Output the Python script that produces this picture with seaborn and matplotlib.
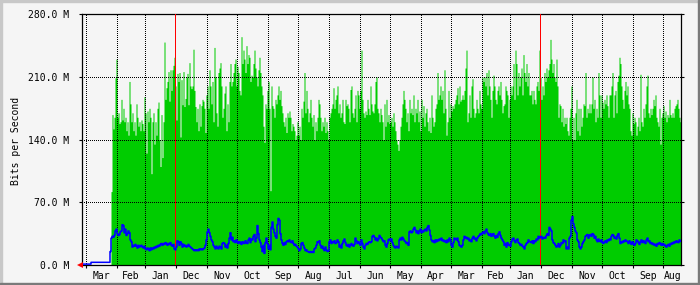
import numpy as np
import pandas as pd
import matplotlib
matplotlib.use("Agg")
import matplotlib.pyplot as plt
import seaborn as sns
from matplotlib.patches import Rectangle

# ---------------- data ----------------
now = pd.Timestamp("2011-04-05")       # left edge of the graph (newest), time runs to the right
n_days = 600

# incoming traffic (green area), daily values in Mbit/s, first column is 29 days ago
green_start = 29
green_in = [
    82, 168, 152, 165, 209, 230, 165, 170, 158, 160,
    185, 162, 175, 160, 165, 150, 160, 145, 205, 180,
    160, 170, 150, 160, 145, 180, 165, 155, 160, 150,
    162, 158, 150, 188, 170, 125, 172, 160, 175, 165,
    102, 160, 170, 135, 160, 145, 175, 182, 140, 110,
    168, 120, 160, 249, 185, 198, 205, 216, 183, 218,
    195, 218, 223, 232, 200, 162, 214, 205, 215, 143,
    207, 179, 216, 177, 186, 210, 214, 179, 226, 200,
    197, 200, 241, 195, 177, 160, 175, 150, 180, 155,
    178, 185, 183, 175, 148, 190, 200, 175, 218, 200,
    180, 205, 160, 243, 210, 170, 155, 215, 220, 226,
    200, 165, 175, 192, 200, 150, 180, 160, 205, 225,
    200, 205, 215, 225, 230, 200, 222, 215, 195, 190,
    255, 225, 240, 230, 215, 245, 225, 235, 232, 205,
    212, 210, 225, 240, 220, 210, 200, 218, 232, 215,
    200, 190, 155, 137, 180, 175, 195, 205, 175, 83,
    200, 178, 175, 165, 185, 180, 190, 200, 185, 195,
    178, 170, 160, 155, 165, 148, 170, 165, 172, 165,
    150, 158, 155, 150, 140, 145, 160, 145, 155, 140,
    175, 165, 183, 215, 170, 195, 175, 160, 170, 185,
    165, 155, 168, 140, 160, 150, 165, 185, 180, 165,
    150, 160, 155, 165, 148, 160, 150, 140, 165, 170,
    175, 180, 198, 175, 185, 190, 200, 170, 180, 165,
    170, 185, 160, 158, 185, 178, 180, 175, 160, 196,
    200, 170, 165, 175, 190, 160, 195, 190, 175, 195,
    240, 185, 170, 165, 172, 168, 185, 175, 168, 200,
    180, 172, 170, 180, 205, 210, 175, 170, 160, 175,
    168, 160, 140, 180, 155, 185, 160, 168, 158, 160,
    165, 155, 170, 160, 150, 140, 135, 128, 140, 155,
    165, 180, 195, 185, 175, 160, 170, 150, 185, 170,
    175, 168, 190, 160, 175, 170, 185, 160, 172, 150,
    185, 165, 178, 155, 170, 175, 160, 150, 165, 148,
    190, 165, 155, 160, 175, 180, 215, 185, 190, 200,
    185, 195, 170, 218, 175, 145, 160, 195, 165, 180,
    172, 178, 175, 180, 185, 190, 198, 180, 200, 183,
    185, 190, 185, 195, 220, 240, 160, 170, 190, 165,
    200, 208, 175, 165, 170, 185, 175, 170, 195, 180,
    175, 210, 205, 210, 200, 215, 190, 218, 200, 185,
    165, 195, 212, 200, 185, 180, 195, 200, 190, 205,
    185, 170, 178, 180, 200, 195, 190, 165, 185, 200,
    190, 200, 225, 185, 240, 225, 190, 215, 200, 210,
    220, 190, 235, 215, 205, 225, 200, 215, 190, 190,
    195, 180, 195, 185, 180, 200, 205, 195, 240, 210,
    185, 200, 190, 215, 205, 220, 210, 218, 225, 252,
    230, 215, 225, 210, 205, 230, 200, 165, 180, 178,
    160, 175, 155, 165, 158, 165, 150, 145, 165, 175,
    200, 140, 165, 140, 170, 185, 150, 175, 145, 175,
    155, 165, 180, 178, 215, 165, 175, 170, 180, 170,
    180, 210, 175, 185, 160, 175, 165, 215, 190, 165,
    190, 182, 175, 185, 180, 190, 178, 165, 190, 190,
    200, 215, 165, 190, 195, 170, 205, 212, 232, 225,
    200, 185, 175, 195, 205, 190, 200, 180, 175, 150,
    145, 170, 158, 165, 160, 145, 155, 165, 150, 213,
    160, 155, 175, 165, 180, 200, 212, 170, 165, 175,
    168, 175, 185, 178, 190, 165, 160, 155, 175, 135,
    165, 170, 178, 165, 172, 160, 168, 165, 185, 168,
    165, 170, 165, 175, 178, 180, 185, 175, 165, 160,
    165,
]

# outgoing traffic (blue line), daily values in Mbit/s, first column is 0 days ago
blue_start = 0
blue_out = [
    1, 1, 1, 1, 1, 1, 1, 1, 1, 3,
    3, 3, 3, 3, 3, 3, 3, 3, 3, 3,
    3, 3, 3, 3, 3, 3, 3, 3, 15, 30,
    32, 31, 33, 38, 40, 35, 33, 34, 37, 38,
    45, 44, 36, 40, 33, 35, 38, 36, 28, 26,
    20, 22, 21, 23, 21, 19, 22, 20, 21, 22,
    20, 19, 21, 18, 17, 19, 18, 16, 19, 17,
    19, 18, 20, 19, 21, 20, 22, 21, 23, 24,
    22, 24, 23, 25, 24, 22, 24, 23, 25, 22,
    21, 23, 18, 17, 20, 27, 26, 22, 26, 24,
    20, 23, 21, 22, 20, 21, 23, 21, 20, 19,
    18, 17, 16, 17, 16, 17, 16, 18, 17, 18,
    17, 18, 19, 22, 28, 37, 40, 36, 32, 28,
    26, 22, 20, 18, 21, 19, 18, 21, 20, 18,
    24, 25, 24, 20, 22, 19, 24, 30, 36, 28,
    31, 26, 27, 25, 28, 26, 24, 26, 25, 23,
    26, 25, 24, 27, 25, 24, 28, 30, 25, 29,
    28, 32, 34, 26, 30, 44, 35, 28, 25, 20,
    15, 22, 13, 25, 30, 24, 18, 22, 17, 42,
    48, 40, 36, 32, 30, 45, 52, 50, 35, 28,
    24, 22, 25, 23, 26, 27, 26, 28, 26, 25,
    27, 24, 22, 23, 21, 20, 18, 16, 18, 24,
    25, 22, 19, 16, 17, 15, 15, 14, 15, 14,
    15, 14, 18, 19, 22, 26, 25, 27, 22, 19,
    21, 18, 16, 20, 17, 15, 16, 26, 28, 24,
    26, 25, 27, 24, 25, 28, 26, 20, 22, 19,
    24, 27, 29, 25, 22, 21, 23, 20, 22, 24,
    22, 21, 23, 30, 27, 24, 26, 24, 22, 28,
    24, 20, 18, 22, 24, 23, 25, 26, 25, 26,
    32, 33, 31, 28, 30, 27, 29, 33, 31, 30,
    28, 26, 27, 22, 20, 24, 28, 29, 27, 29,
    25, 22, 20, 19, 21, 20, 19, 28, 30, 28,
    31, 29, 27, 26, 24, 25, 22, 37, 38, 36,
    37, 40, 42, 39, 36, 38, 35, 38, 40, 36,
    38, 37, 39, 40, 38, 42, 44, 39, 33, 28,
    26, 27, 25, 28, 26, 28, 27, 29, 28, 30,
    27, 28, 26, 27, 25, 28, 26, 30, 28, 22,
    20, 25, 30, 29, 28, 30, 26, 22, 21, 20,
    22, 28, 32, 30, 31, 29, 30, 27, 28, 26,
    30, 32, 29, 30, 27, 30, 32, 33, 35, 34,
    36, 37, 35, 38, 40, 36, 34, 33, 35, 32,
    34, 35, 32, 30, 33, 31, 35, 37, 33, 30,
    28, 26, 22, 24, 20, 25, 22, 23, 21, 26,
    29, 30, 27, 25, 28, 29, 25, 24, 22, 23,
    21, 20, 18, 22, 24, 25, 28, 26, 26, 25,
    27, 24, 27, 26, 29, 28, 32, 30, 31, 32,
    29, 30, 31, 30, 33, 35, 33, 42, 40, 38,
    28, 25, 24, 22, 20, 21, 24, 20, 22, 25,
    24, 28, 26, 27, 18, 20, 18, 30, 32, 50,
    54, 46, 42, 38, 36, 28, 26, 20, 18, 20,
    24, 26, 28, 32, 33, 34, 30, 33, 34, 32,
    35, 34, 30, 32, 28, 26, 29, 27, 26, 28,
    25, 24, 26, 27, 25, 28, 27, 29, 28, 32,
    34, 33, 30, 31, 29, 33, 35, 30, 24, 26,
    25, 27, 26, 28, 27, 26, 24, 27, 25, 23,
    26, 24, 22, 24, 28, 27, 25, 23, 26, 28,
    25, 27, 26, 24, 28, 30, 26, 27, 24, 25,
    23, 24, 22, 23, 21, 24, 23, 25, 24, 22,
    24, 22, 23, 21, 20, 22, 23, 21, 24, 23,
    25, 24, 26, 25, 27, 26, 25, 28, 27, 26,
]

month_labels = ["Mar", "Feb", "Jan", "Dec", "Nov", "Oct", "Sep", "Aug", "Jul", "Jun",
                "May", "Apr", "Mar", "Feb", "Jan", "Dec", "Nov", "Oct", "Sep", "Aug"]
y_ticks = [0, 70, 140, 210, 280]
y_ticklabels = ["0.0 M", "70.0 M", "140.0 M", "210.0 M", "280.0 M"]
y_title = "Bits per Second"

# ---------------- style ----------------
sns.set_theme(style="white")
plt.rcParams["font.family"] = ["DejaVu Sans Mono", "DejaVu Sans"]
BG = "#f5f5f5"
GREEN = "#00cc00"
BLUE = "#0000ff"

W, H = 700, 285
fig = plt.figure(figsize=(W / 100, H / 100), dpi=100, facecolor=BG)
L, R, T, B = 81.7, 681.3, 14.3, 265.0
ax = fig.add_axes([L / W, 1 - B / H, (R - L) / W, (B - T) / H])
ax.set_facecolor(BG)

x_left, x_right = -0.3, n_days - 0.7

# green area (daily steps)
gx = np.arange(green_start, green_start + len(green_in) + 1)
gy = np.array(green_in + [green_in[-1]], dtype=float)
ax.fill_between(gx, gy, step="post", color=GREEN, lw=0, zorder=1, antialiased=False)

# month boundaries from calendar
month_starts = pd.date_range(end=now, periods=24, freq="MS")[::-1]
bounds = np.array([(now - d).days for d in month_starts], dtype=float)
keep = (bounds >= 0) & (bounds <= x_right)
is_jan = np.array([d.month == 1 for d in month_starts])[keep]
bounds = bounds[keep]

# grid
dot = (0, (1, 2))
for b, jan in zip(bounds, is_jan):
    if not jan:
        ax.axvline(b, color="black", lw=0.72, ls=dot, zorder=3, antialiased=False)
for yv in y_ticks[1:-1]:
    ax.axhline(yv, color="black", lw=0.72, ls=dot, zorder=3, antialiased=False)
# year boundaries: 1-pixel red rules (one day is one pixel wide)
for b in bounds[is_jan]:
    ax.axvspan(b - 1.0, b, color="#ff0000", lw=0, zorder=3.5, antialiased=True)

# blue line
bx = np.arange(blue_start, blue_start + len(blue_out) + 1)
by = blue_out + [blue_out[-1]]
df_blue = pd.DataFrame({"day": bx, "val": by})
sns.lineplot(data=df_blue, x="day", y="val", estimator=None, sort=False,
             drawstyle="steps-post", color=BLUE, lw=1.1, ax=ax, zorder=4)

ax.set_xlim(x_left, x_right)
ax.set_ylim(0, 280)

# ticks
ax.set_xticks(bounds)
ax.set_xticklabels([])
edges = list(bounds) + [x_right]
centers = [(edges[i] + edges[i + 1]) / 2 for i in range(len(bounds))]
ax.set_xticks(centers, minor=True)
ax.set_xticklabels(month_labels[:len(centers)], minor=True, fontsize=7, color="black")
ax.tick_params(axis="x", which="major", direction="out", length=2.2, width=0.8,
               color="black", bottom=True)
ax.tick_params(axis="x", which="minor", length=0, pad=4.5, bottom=True)
ax.set_yticks(y_ticks)
ax.set_yticklabels(y_ticklabels, fontsize=7, color="black")
ax.tick_params(axis="y", which="major", direction="out", length=2.2, width=0.8,
               color="black", left=True, right=True, pad=6.5)
ax.set_xlabel("")
ax.set_ylabel("")
for s in ax.spines.values():
    s.set_visible(True)
    s.set_color("black")
    s.set_linewidth(0.9)

# red origin arrow
ax.plot([x_left - 2.2], [0], marker="<", color="#ff0000", ms=4.5, mew=0,
        clip_on=False, zorder=6)

fig.text(16 / W, 1 - 141 / H, y_title, rotation=90, ha="center", va="center",
         fontsize=7, color="black")

# 3-D frame of the image
fig.patches.append(Rectangle((0, 1 - 2 / H), 1, 2 / H, transform=fig.transFigure,
                             color="#c8c8c8", zorder=0))
fig.patches.append(Rectangle((0, 0), 2 / W, 1, transform=fig.transFigure,
                             color="#c8c8c8", zorder=0))
fig.patches.append(Rectangle((0, 0), 1, 2.5 / H, transform=fig.transFigure,
                             color="#7a7a7a", zorder=0))
fig.patches.append(Rectangle((1 - 2.5 / W, 0), 2.5 / W, 1, transform=fig.transFigure,
                             color="#7a7a7a", zorder=0))

fig.savefig("out.png", dpi=100, facecolor=BG)
